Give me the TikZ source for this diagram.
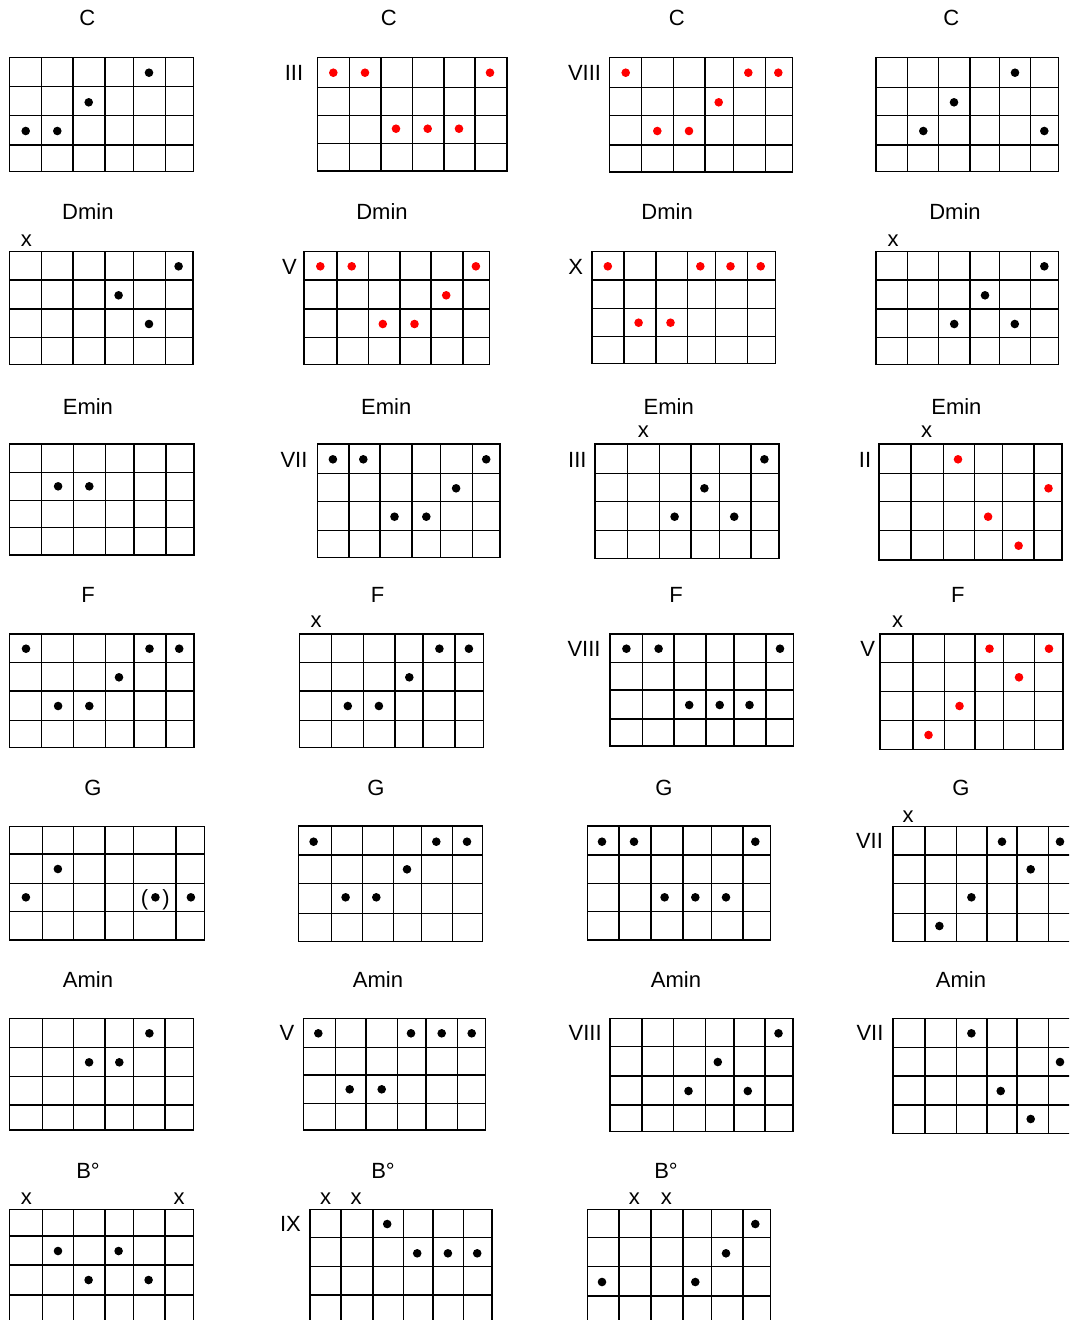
\documentclass[tikz,border=0pt]{standalone}
\usepackage{fontspec}
\setmainfont{Liberation Sans}
\tikzset{
  gl/.style={line width=1.5pt, draw=black},
  bdot/.style={fill=black},
  rdot/.style={fill=red},
  lab/.style={inner sep=0pt, font=\fontsize{22}{26}\selectfont},
}
\newcommand{\cgrid}[6]{%
  \draw[gl] (#1,#3) rectangle (#2,#4);
  \foreach \q in {#5} {\draw[gl] (\q,#3) -- (\q,#4);}
  \foreach \q in {#6} {\draw[gl] (#1,\q) -- (#2,\q);}
}
\newcommand{\blackdots}[1]{\foreach \p/\q in {#1} {\fill[bdot] (\p,\q) circle[radius=4.3pt];}}
\newcommand{\reddots}[1]{\foreach \p/\q in {#1} {\fill[rdot] (\p,\q) circle[radius=4.3pt];}}
\begin{document}
\begin{tikzpicture}[x=1pt,y=-1pt]
\path[use as bounding box] (0,0) rectangle (1069,1320);
\fill[white] (0,0) rectangle (1069,1320);
\clip (0,0) rectangle (1069,1320);

% ---------- Row 1: C ----------
\node[lab] (tc1) at (87.2,18.3) {C};
\node[lab] (tc2) at (388.8,18.3) {C};
\node[lab] (tc3) at (676.7,18.3) {C};
\node[lab] (tc4) at (951.3,18.3) {C};
\node[lab] (fc2) at (294,72.5) {III};
\node[lab] (fc3) at (584.5,72.5) {VIII};
\cgrid{9.3}{193.3}{57.7}{171.7}{41.3,73,105,133.3,165.3}{86.7,115.3,145}
\blackdots{149/72.7, 88.7/102.3, 25.7/131, 57.3/131}
\cgrid{317.7}{507}{57.7}{171}{349.3,381,412.7,444,475}{87.3,115.3,143.3}
\reddots{333.3/72.7, 365/72.7, 490/72.7, 396/128.7, 427.7/128.7, 459/128.7}
\cgrid{609.7}{792.7}{57.7}{172}{641.7,673.3,705,733.3,765.3}{87.3,115.3,145}
\reddots{625.7/72.7, 748.3/72.7, 778.3/72.7, 718.7/102.3, 657.3/131, 689/131}
\cgrid{876}{1058.3}{57.7}{171.7}{907.7,938.3,970,999.3,1030.3}{87.3,115.7,145}
\blackdots{1015/72.7, 954/102.3, 923.3/131, 1044.3/131}

% ---------- Row 2: Dmin ----------
\node[lab] (td1) at (87.9,211.7) {Dmin};
\node[lab] (td2) at (382,211.7) {Dmin};
\node[lab] (td3) at (667.1,211.7) {Dmin};
\node[lab] (td4) at (955,211.7) {Dmin};
\node[lab] (xd1) at (26.3,240.5) {x};
\node[lab] (xd4) at (893,240.5) {x};
\node[lab] (fd2) at (289.5,266.5) {V};
\node[lab] (fd3) at (575.6,266.5) {X};
\cgrid{9.7}{193.1}{251.7}{364.3}{41.4,73.1,105.2,133.4,165.5}{280,309,337.7}
\blackdots{178.6/266.3, 118.6/295.3, 149/324}
\cgrid{304.1}{489.7}{251.7}{364.3}{336.9,368.3,400,431,462.8}{280,309,337.7}
\reddots{320.3/266.3, 351.7/266.3, 475.9/266.3, 446.2/295.3, 382.8/324, 414.5/324}
\cgrid{591.9}{775.6}{251.7}{363.3}{624.1,655.9,687.5,715.6,747.5}{280,308.3,336.7}
\reddots{607.8/266.3, 700.3/266.3, 730.5/266.3, 760.7/266.3, 638.6/322.7, 670.5/322.7}
\cgrid{876}{1058.3}{251.7}{364.3}{907.7,938.3,970,999.3,1030.3}{280,309,337.7}
\blackdots{1044.3/266.3, 985/295.3, 954.2/324, 1014.8/324}

% ---------- Row 3: Emin ----------
\node[lab] (te1) at (87.9,406.3) {Emin};
\node[lab] (te2) at (386.3,406.3) {Emin};
\node[lab] (te3) at (668.8,406.3) {Emin};
\node[lab] (te4) at (956.4,406.3) {Emin};
\node[lab] (xe3) at (643.4,432) {x};
\node[lab] (xe4) at (926.5,432) {x};
\node[lab] (fe2) at (294,459.8) {VII};
\node[lab] (fe3) at (577.3,459.8) {III};
\node[lab] (fe4) at (865,459.8) {II};
\cgrid{9.7}{193.8}{444}{555}{41.5,73.4,105.5,133.9,166.1}{472.3,500.3,527.3}
\blackdots{58.1/486.3, 89.3/486.3}
\cgrid{317.3}{500}{444}{557.7}{348.8,379.9,411.8,440.5,472.3}{473.3,501.7,530.7}
\blackdots{332.9/459.3, 363.3/459.3, 486.2/459.3, 456.1/488.3, 394.5/516.7, 426.3/516.7}
\cgrid{594.9}{779}{444}{558.3}{627.5,659.3,690.8,719.7,750.8}{473.3,501.7,530.7}
\blackdots{764.4/459.3, 704.4/488.3, 674.6/516.7, 734.2/516.7}
\cgrid{879}{1062}{444}{560}{911.2,943.4,974.6,1002.7,1034.2}{473.3,501.7,530.7}
\reddots{958/459.3, 1048.5/488.3, 988.1/516.7, 1018.6/545.7}

% ---------- Row 4: F ----------
\node[lab] (tf1) at (88.2,595.3) {F};
\node[lab] (tf2) at (377.7,595.3) {F};
\node[lab] (tf3) at (676.1,595.3) {F};
\node[lab] (tf4) at (957.8,595.3) {F};
\node[lab] (xf2) at (316,622) {x};
\node[lab] (xf4) at (897.6,622) {x};
\node[lab] (ff3) at (584,649) {VIII};
\node[lab] (ff4) at (867.7,649) {V};
\cgrid{9.7}{193.8}{634}{747.3}{41.5,73.4,105.5,133.9,166.1}{662.7,691,720.7}
\blackdots{26/648.7, 149.5/648.7, 179.2/648.7, 119/677.3, 58.1/706, 89.3/706}
\cgrid{299.7}{483.7}{634}{747.3}{331.5,363.3,395.2,422.8,455}{662.7,691,720.7}
\blackdots{439.4/648.7, 468.9/648.7, 409.3/677.3, 347.8/706, 378.9/706}
\cgrid{610.2}{793.6}{634}{746}{642.7,673.9,706.1,734.2,766.1}{662.7,690,719}
\blackdots{626.4/648.7, 658.6/648.7, 780/648.7, 689.2/705, 719.7/705, 749.5/705}
\cgrid{880}{1063}{634}{749.3}{913,944.5,975,1003.5,1034.5}{662.7,691.7,720.7}
\reddots{989.5/648.7, 1049/648.7, 1019/677.3, 959.5/706, 928.5/735}

% ---------- Row 5: G ----------
\node[lab] (tg1) at (93,788.3) {G};
\node[lab] (tg2) at (376,788.3) {G};
\node[lab] (tg3) at (664,788.3) {G};
\node[lab] (tg4) at (961,788.3) {G};
\node[lab] (xg4) at (908,816.7) {x};
\node[lab] (fg4) at (869.5,841) {VII};
\cgrid{9.5}{204.5}{826.7}{940}{42.3,73.6,105,133.6,175.9}{854,883.3,911.7}
\blackdots{57.9/869, 25.9/897.3, 190.9/897.3, 155.4/897.3}
\node[lab] (gpl) at (144.5,900) {(};
\node[lab] (gpr) at (166,900) {)};
\cgrid{298.6}{482.6}{826}{941.7}{331.3,362.6,393.3,421.3,452.6}{855,883.3,913.3}
\blackdots{313.6/841.7, 436.3/841.7, 467/841.7, 407/869.3, 345.6/897.3, 376.3/897.3}
\cgrid{587.6}{770.3}{826}{940}{619,651,683,711.7,743}{855,883.3,911.7}
\blackdots{602/841.7, 634/841.7, 755.3/841.7, 664.6/897.3, 695.3/897.3, 726/897.3}
\cgrid{893}{1080}{826.7}{941.7}{925,956.4,987,1017,1048.4}{855,883.3,913.3}
\blackdots{1002/841.7, 1060/841.7, 1030.7/869.3, 971.4/897.3, 939.4/926}

% ---------- Row 6: Amin ----------
\node[lab] (ta1) at (88,979.2) {Amin};
\node[lab] (ta2) at (378,979.2) {Amin};
\node[lab] (ta3) at (676,979.2) {Amin};
\node[lab] (ta4) at (961,979.2) {Amin};
\node[lab] (fa2) at (287,1032.5) {V};
\node[lab] (fa3) at (585.2,1032.5) {VIII};
\node[lab] (fa4) at (870,1032.5) {VII};
\cgrid{9.5}{193.6}{1018.3}{1130}{42.3,73.6,105,133.6,165}{1047.3,1076.7,1105}
\blackdots{149.4/1033.3, 89.1/1062.3, 119.3/1062.3}
\cgrid{303.3}{485.3}{1018.3}{1130}{335.4,366,397.4,426,457.4}{1047.3,1075,1103.3}
\blackdots{318.3/1033.3, 411/1033.3, 441.7/1033.3, 471.7/1033.3, 349.7/1089.3, 381.7/1089.3}
\cgrid{610.1}{792.8}{1018.3}{1131.7}{642.1,673.5,705.5,734.2,764.8}{1046.7,1076,1105}
\blackdots{778.5/1033.3, 717.8/1062, 688.5/1091, 747.8/1091}
\cgrid{893}{1080}{1018.3}{1133.3}{925,956.4,987,1017,1048.4}{1047.3,1076,1105}
\blackdots{971.4/1033.3, 1060/1062, 1000.7/1091, 1030.7/1119}

% ---------- Row 7: B dim ----------
\node[lab] (tb1) at (88,1170.5) {B°};
\node[lab] (tb2) at (383,1170.5) {B°};
\node[lab] (tb3) at (666,1170.5) {B°};
\node[lab] (xb1a) at (26.3,1198.3) {x};
\node[lab] (xb1b) at (179,1198.3) {x};
\node[lab] (xb2a) at (325.5,1198.3) {x};
\node[lab] (xb2b) at (356.2,1198.3) {x};
\node[lab] (xb3a) at (634.3,1198.3) {x};
\node[lab] (xb3b) at (666.3,1198.3) {x};
\node[lab] (fb2) at (290.4,1224) {IX};
\cgrid{9.5}{193.6}{1209.3}{1323.5}{42.3,73.6,105,133.6,165}{1236,1265,1295}
\blackdots{58/1251, 118.6/1251, 88.6/1280, 148.6/1280}
\cgrid{310.2}{492.2}{1209.3}{1323.5}{340.8,372.9,403.5,432.9,463.5}{1237.3,1266.7,1295}
\blackdots{387.2/1224, 417.2/1253.3, 447.9/1253.3, 477.2/1253.3}
\cgrid{587.6}{770.3}{1209.3}{1324}{619,651,683,711.7,743}{1237.3,1266.7,1296}
\blackdots{755.3/1224, 726/1253.3, 602/1282, 695.3/1282}
\end{tikzpicture}
\end{document}
